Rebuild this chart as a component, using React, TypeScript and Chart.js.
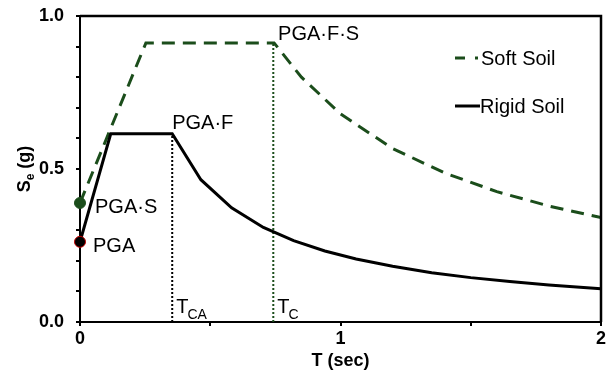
import React, { useEffect, useRef } from "react";
import { Chart, registerables } from "chart.js";

Chart.register(...registerables);

// Rigid soil spectrum (T in sec, Se in g)
const rigidT = [0, 0.118, 0.354, 0.464, 0.582, 0.704, 0.82, 0.94, 1.06, 1.2, 1.35, 1.5, 1.65, 1.8, 2.0];
const rigidSe = [0.262, 0.615, 0.615, 0.465, 0.373, 0.309, 0.266, 0.232, 0.206, 0.182, 0.161, 0.145, 0.132, 0.121, 0.109];

// Soft soil spectrum
const softT = [0, 0.253, 0.745, 0.85, 1.0, 1.2, 1.4, 1.6, 1.8, 2.0];
const softSe = [0.389, 0.912, 0.912, 0.8, 0.68, 0.567, 0.487, 0.426, 0.379, 0.341];

// Characteristic periods
const tCA = 0.354;
const tC = 0.742;
const pga = 0.262;
const pgaS = 0.389;
const plateauRigid = 0.615;
const plateauSoft = 0.912;

// Axis ranges and tick labels
const xMin = 0;
const xMax = 2;
const yMin = 0;
const yMax = 1;
const xTickLabels = ["0", "1", "2"];
const yTickLabels = ["0.0", "0.5", "1.0"];

const GREEN = "#1b4d1b";
const FONT = "'Liberation Sans', Arial, sans-serif";

const toPts = (xs: number[], ys: number[]) => xs.map((x, i) => ({ x, y: ys[i] }));

export default function App() {
  const ref = useRef<HTMLCanvasElement | null>(null);

  useEffect(() => {
    document.body.style.margin = "0";
    const canvas = ref.current;
    if (!canvas) return;

    const overlay = {
      id: "overlay",
      afterDraw(chart: any) {
        const ctx = chart.ctx;
        const a = chart.chartArea;
        const xs = chart.scales.x;
        const ys = chart.scales.y;
        ctx.save();
        ctx.setLineDash([]);
        ctx.fillStyle = "#000";
        ctx.textBaseline = "alphabetic";
        ctx.textAlign = "left";
        ctx.font = `20px ${FONT}`;
        // PGA·F·S
        let px = xs.getPixelForValue(softT[2]);
        let py = ys.getPixelForValue(plateauSoft);
        ctx.fillText("PGA\u00B7F\u00B7S", px + 4, py - 3);
        // PGA·F
        px = xs.getPixelForValue(tCA);
        py = ys.getPixelForValue(plateauRigid);
        ctx.fillText("PGA\u00B7F", px, py - 5);
        // PGA·S
        px = xs.getPixelForValue(0);
        py = ys.getPixelForValue(pgaS);
        ctx.fillText("PGA\u00B7S", px + 15, py + 10);
        // PGA
        py = ys.getPixelForValue(pga);
        ctx.fillText("PGA", px + 13, py + 10);

        // T_CA, T_C
        const y0 = ys.getPixelForValue(0);
        const sub = (base: string, s: string, x: number) => {
          ctx.font = `20px ${FONT}`;
          ctx.fillText(base, x, y0 - 9);
          const w = ctx.measureText(base).width;
          ctx.font = `14px ${FONT}`;
          ctx.fillText(s, x + w - 1, y0 - 3);
        };
        sub("T", "CA", xs.getPixelForValue(tCA) + 4);
        sub("T", "C", xs.getPixelForValue(tC) + 4);

        // Legend
        ctx.lineWidth = 3;
        ctx.strokeStyle = GREEN;
        ctx.setLineDash([10, 10]);
        ctx.beginPath();
        ctx.moveTo(455, 58);
        ctx.lineTo(478, 58);
        ctx.stroke();
        ctx.setLineDash([]);
        ctx.strokeStyle = "#000";
        ctx.beginPath();
        ctx.moveTo(455, 106);
        ctx.lineTo(480, 106);
        ctx.stroke();
        ctx.font = `20px ${FONT}`;
        ctx.fillStyle = "#000";
        ctx.fillText("Soft Soil", 481, 65);
        ctx.fillText("Rigid Soil", 480, 113);

        // Axis titles
        ctx.font = `bold 18px ${FONT}`;
        ctx.textAlign = "center";
        ctx.fillText("T (sec)", (a.left + a.right) / 2, 366);

        ctx.translate(30, (a.top + a.bottom) / 2);
        ctx.rotate(-Math.PI / 2);
        ctx.textAlign = "left";
        ctx.font = `bold 18px ${FONT}`;
        const w1 = ctx.measureText("S").width;
        ctx.font = `bold 12px ${FONT}`;
        const w2 = ctx.measureText("e").width;
        ctx.font = `bold 18px ${FONT}`;
        const w3 = ctx.measureText(" (g)").width;
        const total = w1 + w2 + w3;
        let cx = -total / 2;
        ctx.fillText("S", cx, 0);
        cx += w1;
        ctx.font = `bold 12px ${FONT}`;
        ctx.fillText("e", cx, 4);
        cx += w2;
        ctx.font = `bold 18px ${FONT}`;
        ctx.fillText(" (g)", cx, 0);
        ctx.restore();
      },
    };

    const chart = new Chart(canvas, {
      type: "scatter",
      data: {
        datasets: [
          {
            label: "PGA",
            data: [{ x: 0, y: pga }],
            backgroundColor: "#000",
            borderColor: "#c00000",
            borderWidth: 1,
            pointRadius: 5.5,
            clip: false,
            order: 0,
          } as any,
          {
            label: "PGA·S",
            data: [{ x: 0, y: pgaS }],
            backgroundColor: GREEN,
            borderColor: GREEN,
            borderWidth: 1,
            pointRadius: 5.5,
            clip: false,
            order: 1,
          } as any,
          {
            label: "Rigid Soil",
            data: toPts(rigidT, rigidSe),
            showLine: true,
            borderColor: "#000",
            borderWidth: 3,
            pointRadius: 0,
            tension: 0,
            order: 2,
          } as any,
          {
            label: "Soft Soil",
            data: toPts(softT, softSe),
            showLine: true,
            borderColor: GREEN,
            borderWidth: 3,
            borderDash: [13, 8],
            pointRadius: 0,
            tension: 0,
            order: 3,
          } as any,
          {
            label: "TCA",
            data: [{ x: tCA, y: 0 }, { x: tCA, y: plateauRigid }],
            showLine: true,
            borderColor: "#000",
            borderWidth: 2,
            borderDash: [2, 2],
            pointRadius: 0,
            order: 4,
          } as any,
          {
            label: "TC",
            data: [{ x: tC, y: 0 }, { x: tC, y: plateauSoft }],
            showLine: true,
            borderColor: GREEN,
            borderWidth: 2,
            borderDash: [2, 2],
            pointRadius: 0,
            order: 5,
          } as any,
          {
            label: "frame",
            data: [{ x: xMin, y: yMax }, { x: xMax, y: yMax }, { x: xMax, y: yMin }],
            showLine: true,
            borderColor: "#000000",
            borderWidth: 2.5,
            pointRadius: 0,
            tension: 0,
            clip: false,
            order: -1,
          } as any,
        ],
      },
      options: {
        animation: false,
        responsive: false,
        maintainAspectRatio: false,
        layout: { padding: { top: 16, right: 7, left: 0, bottom: 0 } },
        plugins: { legend: { display: false }, tooltip: { enabled: false } },
        scales: {
          x: {
            type: "linear",
            min: xMin,
            max: xMax,
            afterFit: (s: any) => {
              s.height = 56;
              s.paddingLeft = 0;
              s.paddingRight = 0;
            },
            ticks: {
              stepSize: 0.5,
              autoSkip: false,
              maxRotation: 0,
              padding: 2,
              color: "#000",
              font: { family: FONT, size: 18, weight: "bold" },
              callback: (v: any) => {
                const n = Number(v);
                const idx = Math.round(n);
                return Math.abs(n - idx) < 1e-6 ? xTickLabels[idx] : "";
              },
            },
            grid: { drawOnChartArea: false, tickLength: 4, color: "#000", lineWidth: 2 },
            border: { color: "#000", width: 2 },
          },
          y: {
            type: "linear",
            min: yMin,
            max: yMax,
            afterFit: (s: any) => {
              s.width = 80;
              s.paddingTop = 0;
              s.paddingBottom = 0;
            },
            ticks: {
              stepSize: 0.1,
              autoSkip: false,
              padding: 12,
              color: "#000",
              font: { family: FONT, size: 18, weight: "bold" },
              callback: (v: any) => {
                const n = Number(v) * 2;
                const idx = Math.round(n);
                return Math.abs(n - idx) < 1e-6 ? yTickLabels[idx] : "";
              },
            },
            grid: { drawOnChartArea: false, tickLength: 4, color: "#000", lineWidth: 2 },
            border: { color: "#000", width: 2 },
          },
        },
      } as any,
      plugins: [overlay],
    });

    return () => chart.destroy();
  }, []);

  return (
    <div style={{ position: "absolute", left: 0, top: 0, width: 608, height: 378 }}>
      <canvas ref={ref} width={608} height={378} style={{ width: 608, height: 378, display: "block" }} />
    </div>
  );
}
